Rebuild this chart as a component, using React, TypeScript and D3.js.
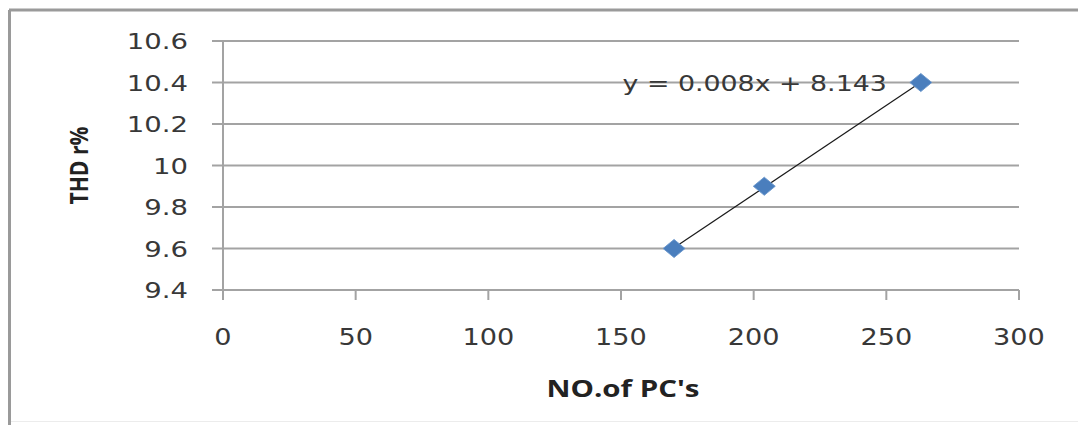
import * as d3 from 'd3';

// values
const pcCounts = [170, 204, 263];
const thdValues = [9.6, 9.9, 10.4];
const xTicks = [0, 50, 100, 150, 200, 250, 300];
const yTicks = [9.4, 9.6, 9.8, 10, 10.2, 10.4, 10.6];
const equationLabel = 'y = 0.008x + 8.143';
const xTitle = "NO.of PC's";
const yTitle = 'THD r%';

export default function App() {
  const width = 1078;
  const height = 425;
  const plot = { left: 223, right: 1019, top: 41, bottom: 290 };

  const x = d3.scaleLinear().domain([0, 300]).range([plot.left, plot.right]);
  const y = d3.scaleLinear().domain([9.4, 10.6]).range([plot.bottom, plot.top]);

  // least squares trend line
  const mx = d3.mean(pcCounts)!;
  const my = d3.mean(thdValues)!;
  const sxy = d3.sum(pcCounts, (v, i) => (v - mx) * (thdValues[i] - my));
  const sxx = d3.sum(pcCounts, (v) => (v - mx) * (v - mx));
  const slope = sxy / sxx;
  const intercept = my - slope * mx;
  const [x0, x1] = d3.extent(pcCounts) as [number, number];
  const trend = d3.line<number>()
    .x((d) => x(d))
    .y((d) => y(slope * d + intercept))([x0, x1]);

  const diamond = d3.symbol().type(d3.symbolSquare).size(182)()!;
  const grid = '#a3a3a3';
  const font = '"DejaVu Sans", Verdana, sans-serif';
  const titleFont = '"Open Sans", "Liberation Sans", sans-serif';
  const fmt = (v: number) => String(+v.toFixed(1));
  const last = pcCounts.length - 1;

  return (
    <svg width={width} height={height} style={{ position: 'absolute', left: 0, top: 0, background: '#fff' }}>
      {/* outer chart border */}
      <line x1={9} x2={width} y1={10} y2={10} stroke="#9a9a9a" strokeWidth={3} />
      <line x1={9.5} x2={9.5} y1={10} y2={height} stroke="#9a9a9a" strokeWidth={3} />
      <line x1={11} x2={width} y1={421.5} y2={421.5} stroke="#ececec" strokeWidth={1} />

      {/* horizontal gridlines + y ticks */}
      {yTicks.map((t) => (
        <line key={t} x1={plot.left - 11} x2={plot.right} y1={y(t)} y2={y(t)} stroke={grid} strokeWidth={2} />
      ))}
      {/* y axis line */}
      <line x1={plot.left} x2={plot.left} y1={plot.top} y2={plot.bottom + 10} stroke={grid} strokeWidth={2} />
      {/* x ticks */}
      {xTicks.map((t) => (
        <line key={t} x1={x(t)} x2={x(t)} y1={plot.bottom} y2={plot.bottom + 10} stroke={grid} strokeWidth={2} />
      ))}

      {/* y tick labels */}
      {yTicks.map((t) => (
        <text
          key={t}
          transform={`translate(${plot.left - 35},${y(t) + 8}) scale(1.25,1)`}
          textAnchor="end"
          fontFamily={font}
          fontSize={22}
          fill="#383838"
        >
          {fmt(t)}
        </text>
      ))}
      {/* x tick labels */}
      {xTicks.map((t) => (
        <text
          key={t}
          transform={`translate(${x(t)},${plot.bottom + 55}) scale(1.18,1)`}
          textAnchor="middle"
          fontFamily={font}
          fontSize={23}
          fill="#383838"
        >
          {t}
        </text>
      ))}

      {/* trend line */}
      <path d={trend ?? ''} fill="none" stroke="#1a1a1a" strokeWidth={1.2} />

      {/* markers */}
      {pcCounts.map((v, i) => (
        <path
          key={i}
          d={diamond}
          transform={`translate(${x(v)},${y(thdValues[i])}) scale(1.15,0.95) rotate(45)`}
          fill="#4a7ebd"
          stroke="#6a96cc"
          strokeWidth={0.8}
        />
      ))}

      {/* equation */}
      <text
        transform={`translate(${x(pcCounts[last]) - 34},${y(thdValues[last]) + 8}) scale(1.22,1)`}
        textAnchor="end"
        fontFamily={font}
        fontSize={22}
        fill="#383838"
      >
        {equationLabel}
      </text>

      {/* axis titles */}
      <text
        x={(plot.left + plot.right) / 2 + 2}
        y={397}
        textAnchor="middle"
        fontFamily={titleFont}
        fontWeight="bold"
        fontSize={24}
        textLength={153}
        lengthAdjust="spacingAndGlyphs"
        fill="#222"
      >
        {xTitle}
      </text>
      <text
        transform={`translate(${88},${(plot.top + plot.bottom) / 2}) rotate(-90)`}
        textAnchor="middle"
        fontFamily={titleFont}
        fontWeight="bold"
        fontSize={25}
        textLength={78}
        lengthAdjust="spacingAndGlyphs"
        fill="#222"
      >
        {yTitle}
      </text>
    </svg>
  );
}
